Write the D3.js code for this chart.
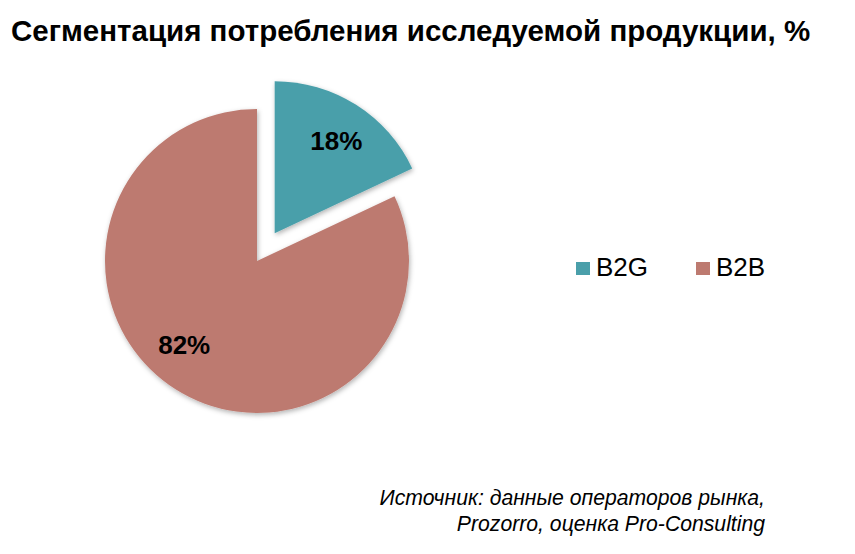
<!DOCTYPE html>
<meta charset="utf-8">
<style>
html, body { margin: 0; background: #fff; }
svg { display: block; font-family: "Liberation Sans", Arial, sans-serif; }
</style>
<body>
<svg id="chart" width="855" height="554"></svg>
<script src="https://cdn.jsdelivr.net/npm/d3@7"></script>
<script>

var segments = ["B2G", "B2B"]
var shares = [18, 82]
var colors = ["#4a9faa", "#bd7a70"]
var exploded = [true, false]

var svg = d3.select("#chart")
var cx = 257, cy = 261, radius = 152, explodeBy = 33
// label placement: fraction of radius, and angle tweak (deg) from slice bisector
var labelR = 0.73, labelShift = [1.3, 8.6]

var defs = svg.append("defs")
var f = defs.append("filter").attr("id", "shadow")
    .attr("x", "-20%").attr("y", "-20%").attr("width", "140%").attr("height", "140%")
f.append("feDropShadow")
    .attr("dx", 1).attr("dy", 2).attr("stdDeviation", 2.5)
    .attr("flood-color", "#000").attr("flood-opacity", 0.3)

svg.append("text")
    .attr("x", 11).attr("y", 41)
    .attr("font-size", 29.5).attr("font-weight", "bold")
    .text("Сегментация потребления исследуемой продукции, %")

var data = segments.map(function(s, i) {
  return { name: s, value: shares[i], color: colors[i], out: exploded[i], shift: labelShift[i] }
})

var pie = d3.pie().sort(null).value(function(d) { return d.value })
var arc = d3.arc().innerRadius(0).outerRadius(radius)

var slices = svg.append("g")
    .attr("transform", "translate(" + cx + "," + cy + ")")
  .selectAll("g")
  .data(pie(data))
  .enter().append("g")
    .attr("transform", function(d) {
      if (!d.data.out) return null
      var a = (d.startAngle + d.endAngle) / 2
      return "translate(" + (Math.sin(a) * explodeBy) + "," + (-Math.cos(a) * explodeBy) + ")"
    })

slices.append("path")
    .attr("d", arc)
    .attr("fill", function(d) { return d.data.color })
    .attr("filter", "url(#shadow)")

slices.append("text")
    .attr("transform", function(d) {
      var a = (d.startAngle + d.endAngle) / 2 + d.data.shift * Math.PI / 180
      var r = radius * labelR
      return "translate(" + (Math.sin(a) * r) + "," + (-Math.cos(a) * r) + ")"
    })
    .attr("text-anchor", "middle").attr("dy", "0.36em")
    .attr("font-size", 26).attr("font-weight", "bold")
    .text(function(d) { return d.data.value + "%" })

var legend = svg.append("g").selectAll("g")
  .data(data)
  .enter().append("g")
    .attr("transform", function(d, i) { return "translate(" + (576 + i * 120) + ",262)" })

legend.append("rect")
    .attr("width", 14).attr("height", 13)
    .attr("fill", function(d) { return d.color })

legend.append("text")
    .attr("x", 20).attr("y", 13.5)
    .attr("font-size", 26)
    .text(function(d) { return d.name })

var source = svg.append("text")
    .attr("text-anchor", "end")
    .attr("font-size", 21.2).attr("font-style", "italic")
source.append("tspan").attr("x", 765).attr("y", 505).text("Источник: данные операторов рынка,")
source.append("tspan").attr("x", 765).attr("y", 531).text("Prozorro, оценка Pro-Consulting")

</script>
</body>
